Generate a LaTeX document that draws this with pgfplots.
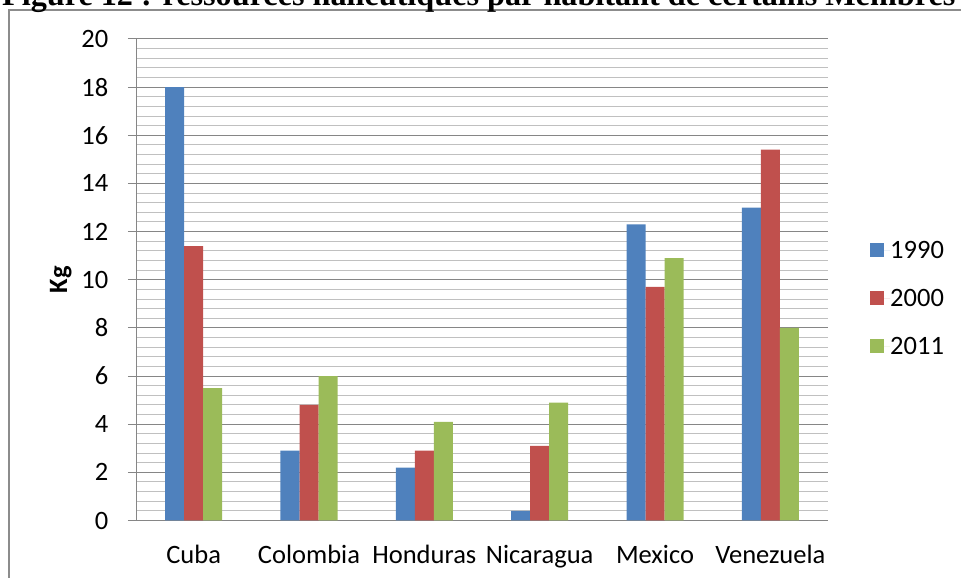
\documentclass[border=0pt]{standalone}
\usepackage{graphicx}
\usepackage{pgfplots}
\pgfplotsset{compat=1.18}
\usepackage{fontspec}
\setmainfont{Carlito}
\newfontfamily\titlefont{Liberation Serif}

\definecolor{barblue}{HTML}{4F81BD}
\definecolor{barred}{HTML}{C0504D}
\definecolor{bargreen}{HTML}{9BBB59}
\definecolor{gridmajor}{HTML}{868686}
\definecolor{gridminor}{HTML}{C0C0C0}
\definecolor{framegray}{HTML}{8C8C8C}

% Fish resources per inhabitant (kg)
\pgfplotstableread{
idx y1990 y2000 y2011
0   18.0  11.4  5.5
1   2.9   4.8   6.0
2   2.2   2.9   4.1
3   0.4   3.1   4.9
4   12.3  9.7   10.9
5   13.0  15.4  8.0
}\fishdata

\newcommand\labelfont{\fontsize{26.5}{30}\selectfont}

\begin{document}
\begin{tikzpicture}
\useasboundingbox (0pt,0pt) rectangle (961pt,578pt);
\clip (0pt,0pt) rectangle (961pt,578pt);
\draw[framegray, line width=1.5pt] (9pt,-20pt) rectangle (980pt,568pt);
\node[anchor=base west, inner sep=0pt] at (2pt,572pt)
  {\resizebox{953pt}{!}{\titlefont\bfseries Figure 12 : ressources halieutiques par habitant de certains Membres}};
\begin{axis}[
  at={(136pt,57.5pt)}, anchor=south west,
  scale only axis, width=692pt, height=481.5pt,
  ymin=0, ymax=20, xmin=-0.5, xmax=5.5,
  ytick={0,2,...,20}, minor y tick num=4,
  xtick={0,...,5},
  xticklabels={Cuba,Colombia,Honduras,Nicaragua,Mexico,Venezuela},
  ymajorgrids, yminorgrids,
  major grid style={draw=gridmajor, line width=1pt},
  minor grid style={draw=gridminor, line width=1pt},
  axis x line*=bottom, axis y line*=left,
  axis line style={draw=gridmajor, line width=1pt},
  tick align=outside,
  major tick length=8pt, minor tick length=0pt,
  x tick style={draw=none},
  y tick style={draw=gridmajor, line width=1pt},
  /pgf/number format/assume math mode=true,
  tick label style={font=\labelfont},
  xticklabel style={anchor=base, inner sep=0pt, yshift=-35.5pt},
  yticklabel style={anchor=east, inner sep=0pt, xshift=-19.5pt},
  ylabel={\textbf{Kg}},
  ylabel style={font=\labelfont, at={(axis description cs:-0.1088,0.5)}, anchor=center, inner sep=0pt},
  ybar=0pt, bar width=19pt,
  legend style={draw=none, fill=none, at={(axis description cs:1,0.462)}, anchor=west,
    xshift=42pt, inner sep=0pt, font=\labelfont, row sep=0pt,
    nodes={inner sep=0pt, text height=32.5pt, text depth=15.5pt}},
  legend cell align=left,
  legend image code/.code={\fill[#1] (0pt,-7pt) rectangle (14pt,7pt); \path (0pt,0pt) -- (20pt,0pt);},
]
\addplot[fill=barblue, draw=none] table[x=idx, y=y1990] {\fishdata};
\addplot[fill=barred, draw=none] table[x=idx, y=y2000] {\fishdata};
\addplot[fill=bargreen, draw=none] table[x=idx, y=y2011] {\fishdata};
\legend{1990,2000,2011}
\end{axis}
\end{tikzpicture}
\end{document}
